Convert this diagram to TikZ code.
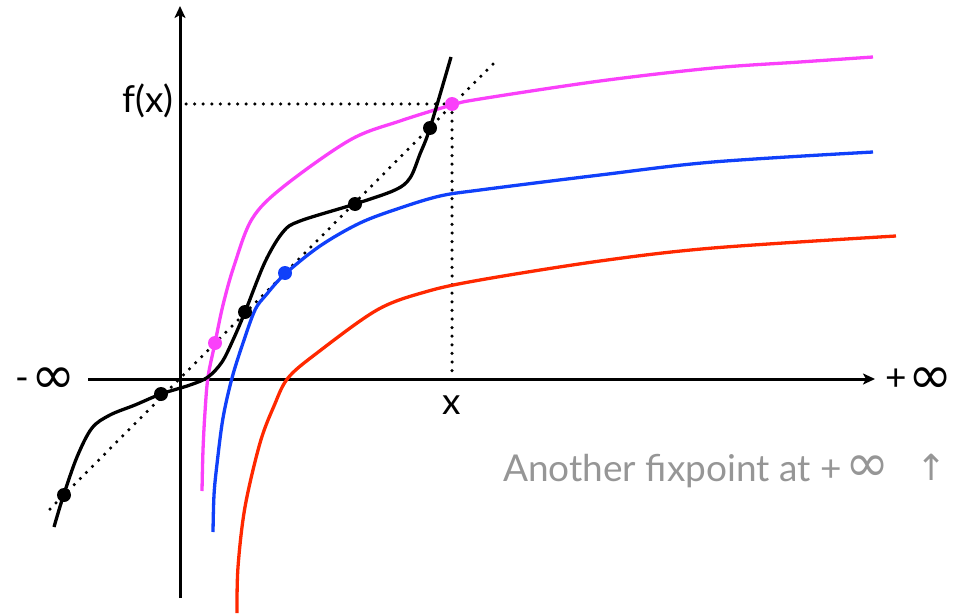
\documentclass[tikz,border=0pt]{standalone}
\usepackage{fontspec}
\setmainfont{Lato}
\newfontfamily\symfont{DejaVu Sans}
\newcommand{\infsym}{{\symfont\fontsize{53}{53}\selectfont ∞}}
\usetikzlibrary{arrows.meta}
\definecolor{cmag}{RGB}{250,64,250}
\definecolor{cblue}{RGB}{16,64,250}
\definecolor{cred}{RGB}{255,40,0}
\definecolor{cgray}{RGB}{150,150,150}
\tikzset{
  axis/.style={line width=3pt,-{Stealth[length=12pt,width=11pt,inset=3pt]}},
  dotline/.style={line width=3.5pt,dash pattern=on 0pt off 8.6pt,line cap=round},
  curve/.style={line width=3.3pt,line join=round},
  pt/.style={circle,inner sep=0pt,minimum size=14pt},
  lbl/.style={inner sep=0pt,font=\fontsize{37}{42}\selectfont},
}
\begin{document}
\begin{tikzpicture}[x=1pt,y=-1pt]
\useasboundingbox (0,0) rectangle (960,615);
% axes
\coordinate (xs) at (88,379);
\coordinate (xe) at (875,379);
\coordinate (ys) at (180,598);
\coordinate (ye) at (180,6);
\draw[axis] (xs) -- (xe);
\draw[axis] (ys) -- (ye);
% labels
\node[lbl,anchor=base west] (minf) at (15,390) {-\hspace{3pt}\raisebox{-3pt}{\infsym}};
\node[lbl,anchor=base west] (pinf) at (885,390) {+\hspace{2pt}\raisebox{-3pt}{\infsym}};
\node[lbl,anchor=base east] (fx) at (174,113) {f(x)};
\node[lbl,anchor=base] (xl) at (452,414) {x};
\node[lbl,anchor=base west,text=cgray] (note) at (503,481) {Another fixpoint at +\hspace{4pt}\infsym};
\node[lbl,anchor=base,text=cgray] (arr) at (932,480) {\symfont\fontsize{36}{36}\selectfont ↑};
% dotted guides
\coordinate (fxl) at (186,104);
\coordinate (fp) at (452,104);
\coordinate (xa) at (452,379);
\coordinate (d0) at (50,509);
\coordinate (d1) at (497,60);
\draw[dotline] (fxl) -- (fp);
\draw[dotline] (fp) -- (xa);
\draw[dotline] (d0) -- (d1);
% curves
\draw[curve,cred] plot[smooth,tension=0.55] coordinates {(237,613) (238,567) (245,507) (260,443) (274,406) (288,378) (317,353) (377,310) (425,292) (480,280) (600,261) (713,248) (896,236)};
\draw[curve,cblue] plot[smooth,tension=0.55] coordinates {(213,532) (214,495) (217,464) (223,418) (232,378) (243,343) (255,310) (266,295) (285,274) (320,246) (360,223) (400,208) (440,196) (480,190) (600,175) (713,162) (873,152)};
\draw[curve,cmag] plot[smooth,tension=0.55] coordinates {(202,491) (203,450) (205,412) (208,377) (215,343) (223,305) (234,266) (252,219) (283,187) (350,140) (400,121) (452,105) (480,99) (600,81) (713,68) (800,62) (873,57)};
\draw[curve,black] plot[smooth,tension=0.55] coordinates {(54,527) (63,497) (77,457) (92,428) (110,415) (135,405) (161,394) (190,385) (208,377) (222,362) (233,340) (245,312) (265,262) (283,232) (300,221) (355,204) (395,190) (410,178) (420,154) (430,128) (451,57)};
% points
\node[pt,fill=black] (b1) at (64,495) {};
\node[pt,fill=black] (b2) at (161,394) {};
\node[pt,fill=black] (b3) at (245,312) {};
\node[pt,fill=black] (b4) at (355,204) {};
\node[pt,fill=black] (b5) at (430,128) {};
\node[pt,fill=cmag] (m1) at (215,343) {};
\node[pt,fill=cmag] (m2) at (452,104) {};
\node[pt,fill=cblue] (u1) at (285,273) {};
\end{tikzpicture}
\end{document}
